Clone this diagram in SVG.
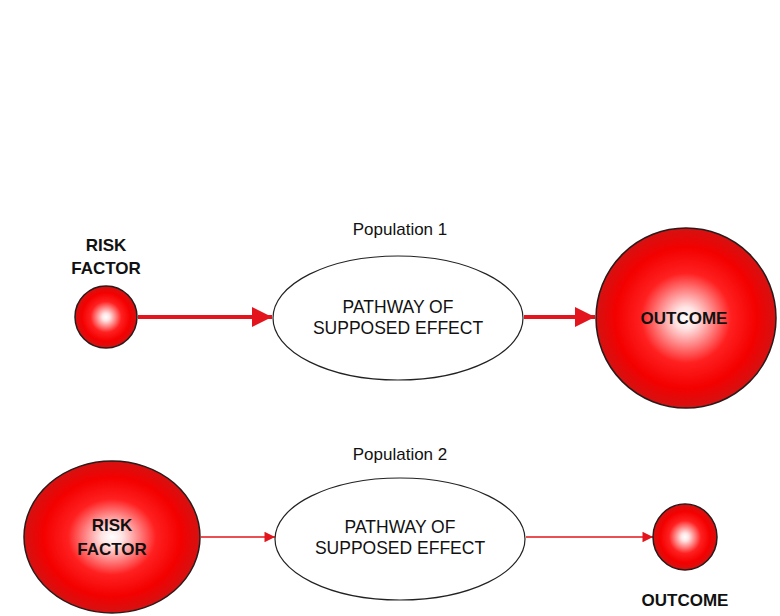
<svg xmlns="http://www.w3.org/2000/svg" width="780" height="616" viewBox="0 0 780 616">
<defs>
<radialGradient id="ball" cx="50%" cy="50%" r="50%">
<stop offset="0" stop-color="#ffffff"/>
<stop offset="0.12" stop-color="#ffe4e4"/>
<stop offset="0.5" stop-color="#ff2020"/>
<stop offset="0.78" stop-color="#f40000"/>
<stop offset="1" stop-color="#d41212"/>
</radialGradient>
<marker id="ahBig" viewBox="0 0 10 10" refX="10" refY="5" markerWidth="6" markerHeight="5" markerUnits="strokeWidth" orient="auto">
<path d="M0,0 L10,5 L0,10 z" fill="#e3141b"/>
</marker>
<marker id="ahSmall" viewBox="0 0 10 10" refX="10" refY="5" markerWidth="9" markerHeight="7" markerUnits="strokeWidth" orient="auto">
<path d="M0,0 L10,5 L0,10 z" fill="#e3141b"/>
</marker>
</defs>
<style>
.ball{fill:url(#ball);stroke:#2a1a1a;stroke-width:1.5}
.path{fill:#fff;stroke:#222;stroke-width:1.2}
.lbl{font-family:"Liberation Sans",Arial,sans-serif;font-size:17px;font-weight:bold;fill:#111;text-anchor:middle}
.txt{font-family:"Liberation Sans",Arial,sans-serif;font-size:17.5px;fill:#111;text-anchor:middle}
.pop{font-family:"Liberation Sans",Arial,sans-serif;font-size:17px;fill:#111;text-anchor:middle}
.thick{stroke:#e3141b;stroke-width:4;fill:none;marker-end:url(#ahBig)}
.thin{stroke:#e3141b;stroke-width:1.5;fill:none;marker-end:url(#ahSmall)}
</style>
<rect width="780" height="616" fill="#fff"/>
<g id="connectors">
<line class="thick" x1="138" y1="317" x2="272" y2="317"/>
<line class="thick" x1="524" y1="317" x2="595" y2="317"/>
<line class="thin" x1="201" y1="537" x2="275" y2="537"/>
<line class="thin" x1="526" y1="537" x2="653" y2="537"/>
</g>
<g id="pop1-label"><text class="pop" x="400" y="235">Population 1</text></g>
<g id="risk1">
<circle class="ball" cx="106" cy="317" r="31"/>
<text class="lbl" x="106" y="251">RISK</text>
<text class="lbl" x="106" y="274">FACTOR</text>
</g>
<g id="pathway1">
<ellipse class="path" cx="398" cy="318" rx="125" ry="62"/>
<text class="txt" x="398" y="313">PATHWAY OF</text>
<text class="txt" x="398" y="334">SUPPOSED EFFECT</text>
</g>
<g id="outcome1">
<circle class="ball" cx="686" cy="318" r="90"/>
<text class="lbl" x="684" y="324">OUTCOME</text>
</g>
<g id="pop2-label"><text class="pop" x="400" y="460">Population 2</text></g>
<g id="risk2">
<ellipse class="ball" cx="112" cy="537" rx="88" ry="76"/>
<text class="lbl" x="112" y="531">RISK</text>
<text class="lbl" x="112" y="555">FACTOR</text>
</g>
<g id="pathway2">
<ellipse class="path" cx="400" cy="539" rx="125" ry="61"/>
<text class="txt" x="400" y="533">PATHWAY OF</text>
<text class="txt" x="400" y="554">SUPPOSED EFFECT</text>
</g>
<g id="outcome2">
<ellipse class="ball" cx="685" cy="537" rx="32" ry="33"/>
<text class="lbl" x="685" y="606">OUTCOME</text>
</g>
</svg>
